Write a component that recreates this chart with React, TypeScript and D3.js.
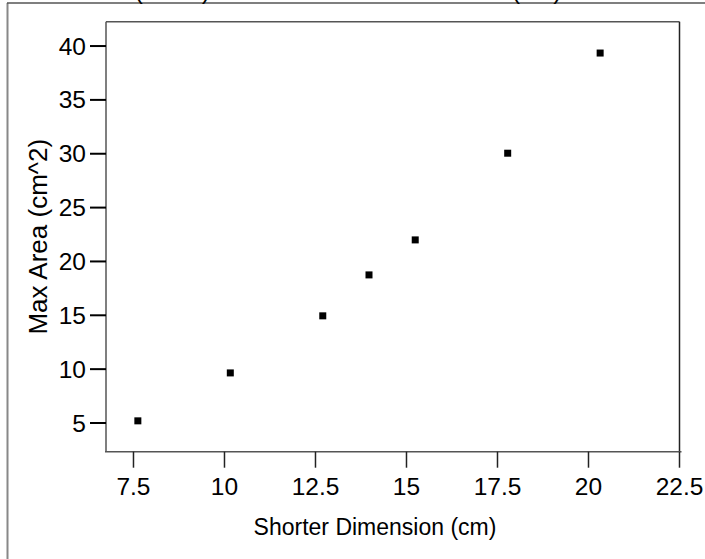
import React from "react";
import * as d3 from "d3";

const shorterDim = [7.62, 10.16, 12.7, 13.97, 15.24, 17.78, 20.32];
const maxArea = [5.2, 9.65, 14.95, 18.75, 22.0, 30.05, 39.35];
const xTicks = [7.5, 10, 12.5, 15, 17.5, 20, 22.5];
const yTicks = [5, 10, 15, 20, 25, 30, 35, 40];
const xTitle = "Shorter Dimension (cm)";
const yTitle = "Max Area (cm^2)";
const chartTitle = "Max Area (cm^2) versus Shorter Dimension (cm)";

const W = 705;
const H = 559;
const left = 106;
const right = 679.5;
const top = 21.7;
const bottom = 451.7;
const font = "'Liberation Sans', Arial, Helvetica, sans-serif";

export default function App() {
  const x = d3.scaleLinear().domain([6.745, 22.5]).range([left, right]);
  const y = d3.scaleLinear().domain([2.335, 42.26]).range([bottom, top]);
  const fmt = (v: number) => String(v);
  return (
    <svg
      width={W}
      height={H}
      style={{ position: "absolute", left: 0, top: 0, background: "#fff" }}
      fontFamily={font}
    >
      <rect x={0} y={0} width={W} height={H} fill="#fff" />
      {/* outer frame */}
      <line x1={7.5} y1={3} x2={7.5} y2={H} stroke="#888" strokeWidth={2} />
      <line x1={7} y1={3} x2={W} y2={3} stroke="#555" strokeWidth={1.5} />
      {/* title, mostly above the visible area as in the reference */}
      <text x={22} y={-1} fontSize={25} fill="#000">
        {chartTitle}
      </text>
      {/* plot box */}
      <line x1={left} y1={top} x2={right} y2={top} stroke="#555" strokeWidth={1.5} />
      <line x1={right} y1={top} x2={right} y2={bottom} stroke="#222" strokeWidth={1.5} />
      <line x1={left} y1={top} x2={left} y2={bottom} stroke="#555" strokeWidth={1.5} />
      <line x1={left - 1} y1={bottom} x2={right + 2} y2={bottom} stroke="#555" strokeWidth={1.5} />
      {/* y ticks */}
      {yTicks.map((t) => (
        <g key={"y" + t}>
          <line x1={left - 16} x2={left} y1={y(t)} y2={y(t)} stroke="#000" strokeWidth={2} />
          <text
            x={left - 20}
            y={y(t)}
            dy="0.35em"
            textAnchor="end"
            fontSize={24.5}
            fill="#000"
          >
            {fmt(t)}
          </text>
        </g>
      ))}
      {/* x ticks */}
      {xTicks.map((t) => (
        <g key={"x" + t}>
          <line x1={x(t)} x2={x(t)} y1={bottom} y2={bottom + 16} stroke="#222" strokeWidth={1.5} />
          <text x={x(t)} y={495} textAnchor="middle" fontSize={24.5} fill="#000">
            {fmt(t)}
          </text>
        </g>
      ))}
      {/* axis titles */}
      <text x={375} y={535} textAnchor="middle" fontSize={23} fill="#000">
        {xTitle}
      </text>
      <text
        transform={`translate(47, ${(top + bottom) / 2}) rotate(-90)`}
        textAnchor="middle"
        fontSize={26}
        fill="#000"
      >
        {yTitle}
      </text>
      {/* points */}
      {shorterDim.map((d, i) => (
        <rect
          key={i}
          x={x(d) - 3.5}
          y={y(maxArea[i]) - 3.5}
          width={7}
          height={7}
          fill="#000"
        />
      ))}
    </svg>
  );
}
